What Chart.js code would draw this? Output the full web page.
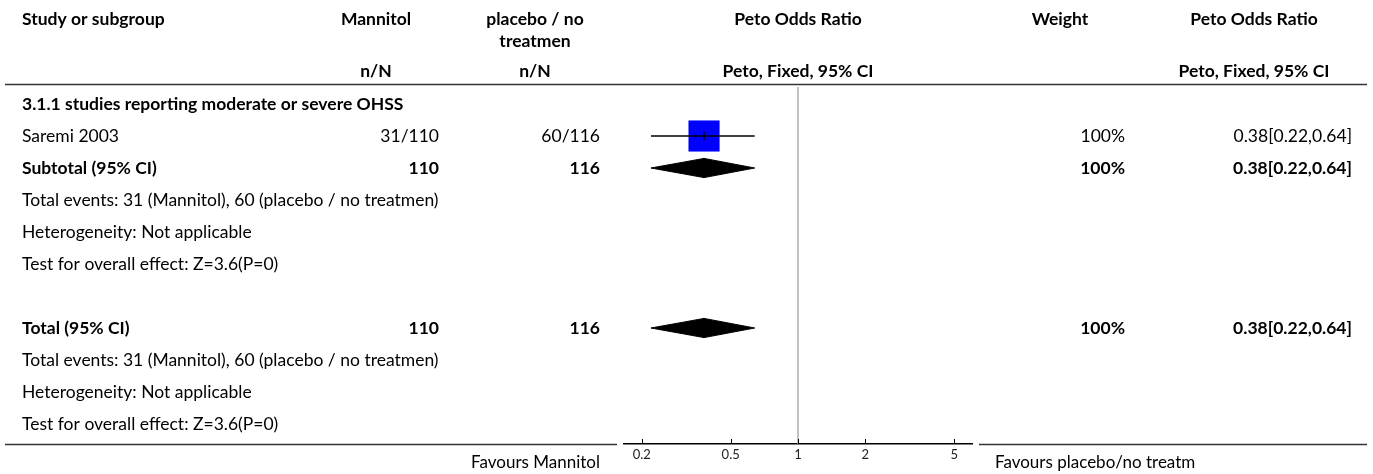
<!DOCTYPE html>
<html>
<head>
<meta charset="utf-8">
<title>Mannitol vs placebo / no treatment – moderate or severe OHSS</title>
<script src="https://cdn.jsdelivr.net/npm/chart.js@4.4.1/dist/chart.umd.min.js"></script>
<style>
  html, body { margin: 0; padding: 0; background: #fff; }
  #wrap { width: 1373px; height: 474px; position: relative; }
</style>
</head>
<body>
<div id="wrap"><canvas id="forest" width="1373" height="474"></canvas></div>
<script>
// ---- data ----
const subgroupTitle = '3.1.1 studies reporting moderate or severe OHSS';
const studies = ['Saremi 2003'];
const mannitolEvents = [31];
const mannitolTotals = [110];
const controlEvents = [60];
const controlTotals = [116];
const studyOR = [0.38];
const studyLow = [0.22];
const studyHigh = [0.64];
const studyWeight = [100];

const pooledOR = [0.38];
const pooledLow = [0.22];
const pooledHigh = [0.64];
const testZ = [3.6];
const testP = [0];

const treatmentName = 'Mannitol';
const controlName = 'placebo / no treatmen';
const controlHeader = ['placebo / no', 'treatmen'];
const favoursLeft = 'Favours Mannitol';
const favoursRight = 'Favours placebo/no treatm';
const axisTicks = [0.2, 0.5, 1, 2, 5];
const axisRange = [1 / 6, 6];

// ---- layout / style ----
const FONT = 'Lato, "Open Sans", sans-serif';
const INK = '#000';
const BODY = 17.5;
const COL = {
  tableLeft: 5, tableRight: 1367,
  studyLeft: 22,
  trtHead: 376, trtRight: 439,
  ctlHead: 535, ctlRight: 600,
  plotLeft: 617, plotRight: 979,
  wHead: 1060, wRight: 1125,
  estHead: 1254, estRight: 1352
};
const DIAMOND_HALF = 0.3;   // half height of a pooled diamond, in rows

// row indices inside the plot's y scale
const nStudies = studies.length;
const ROW = {
  head1: -2.66, head2: -1.96, head3: -1.02,
  subgroup: 0,
  firstStudy: 1,
  subtotal: nStudies + 1,
  subEvents: nStudies + 2,
  subHet: nStudies + 3,
  subTest: nStudies + 4,
  total: nStudies + 6,
  totEvents: nStudies + 7,
  totHet: nStudies + 8,
  totTest: nStudies + 9
};

const sum = a => a.reduce((s, v) => s + v, 0);
const fmtCI = (m, l, h) => `${m.toFixed(2)}[${l.toFixed(2)},${h.toFixed(2)}]`;

function diamond(m, l, h, row) {
  return [
    { x: l, y: row }, { x: m, y: row - DIAMOND_HALF },
    { x: h, y: row }, { x: m, y: row + DIAMOND_HALF }, { x: l, y: row }
  ];
}

const datasets = [];
// line of no effect
datasets.push({
  data: [{ x: 1, y: -0.53 }, { x: 1, y: 10.625 }],
  showLine: true, borderColor: '#9a9a9a', borderWidth: 1.2,
  pointRadius: 0, order: 10
});
studies.forEach((s, i) => {
  const row = ROW.firstStudy + i;
  // weighted square
  datasets.push({
    data: [{ x: studyOR[i], y: row }],
    pointStyle: 'rect', pointRadius: 22 * Math.sqrt(studyWeight[i] / 100),
    backgroundColor: '#0000ff', borderWidth: 0, order: 5
  });
  // confidence interval
  datasets.push({
    data: [{ x: studyLow[i], y: row }, { x: studyHigh[i], y: row }],
    showLine: true, borderColor: '#000', borderWidth: 1.3,
    pointRadius: 0, order: 2
  });
  // point estimate mark
  datasets.push({
    data: [{ x: studyOR[i], y: row }],
    pointStyle: 'line', rotation: 90, pointRadius: 4.5,
    borderColor: '#000', borderWidth: 1.2, order: 1
  });
});
[ROW.subtotal, ROW.total].forEach(row => {
  datasets.push({
    data: diamond(pooledOR[0], pooledLow[0], pooledHigh[0], row),
    showLine: true, fill: 'shape', tension: 0,
    backgroundColor: '#000', borderColor: '#000', borderWidth: 1,
    pointRadius: 0, order: 3
  });
});

// table text, rules and upward tick marks
const forestTable = {
  id: 'forestTable',
  afterDraw(chart) {
    const ctx = chart.ctx;
    const ys = chart.scales.y, xs = chart.scales.x;
    const area = chart.chartArea;
    const Y = r => ys.getPixelForValue(r);
    const put = (s, x, y, align, bold, size) => {
      ctx.font = `${bold ? 'bold ' : ''}${size || BODY}px ${FONT}`;
      ctx.textAlign = align;
      ctx.fillText(s, x, y);
    };
    const plotMid = xs.getPixelForValue(1);

    ctx.save();
    ctx.fillStyle = INK;
    ctx.textBaseline = 'middle';

    // column headings
    put('Study or subgroup', COL.studyLeft, Y(ROW.head1), 'left', true);
    put(treatmentName, COL.trtHead, Y(ROW.head1), 'center', true);
    put(controlHeader[0], COL.ctlHead, Y(ROW.head1), 'center', true);
    put(controlHeader[1], COL.ctlHead, Y(ROW.head2), 'center', true);
    put('Peto Odds Ratio', plotMid, Y(ROW.head1), 'center', true);
    put('Weight', COL.wHead, Y(ROW.head1), 'center', true);
    put('Peto Odds Ratio', COL.estHead, Y(ROW.head1), 'center', true);
    put('n/N', COL.trtHead, Y(ROW.head3), 'center', true);
    put('n/N', COL.ctlHead, Y(ROW.head3), 'center', true);
    put('Peto, Fixed, 95% CI', plotMid, Y(ROW.head3), 'center', true);
    put('Peto, Fixed, 95% CI', COL.estHead, Y(ROW.head3), 'center', true);

    // subgroup
    put(subgroupTitle, COL.studyLeft, Y(ROW.subgroup), 'left', true);
    studies.forEach((s, i) => {
      const y = Y(ROW.firstStudy + i);
      put(s, COL.studyLeft, y, 'left', false);
      put(`${mannitolEvents[i]}/${mannitolTotals[i]}`, COL.trtRight, y, 'right', false);
      put(`${controlEvents[i]}/${controlTotals[i]}`, COL.ctlRight, y, 'right', false);
      put(`${studyWeight[i]}%`, COL.wRight, y, 'right', false);
      put(fmtCI(studyOR[i], studyLow[i], studyHigh[i]), COL.estRight, y, 'right', false);
    });

    const summaryBlock = (label, rTitle, rEv, rHet, rTest) => {
      const y = Y(rTitle);
      put(label, COL.studyLeft, y, 'left', true);
      put(String(sum(mannitolTotals)), COL.trtRight, y, 'right', true);
      put(String(sum(controlTotals)), COL.ctlRight, y, 'right', true);
      put(`${sum(studyWeight)}%`, COL.wRight, y, 'right', true);
      put(fmtCI(pooledOR[0], pooledLow[0], pooledHigh[0]), COL.estRight, y, 'right', true);
      put(`Total events: ${sum(mannitolEvents)} (${treatmentName}), ${sum(controlEvents)} (${controlName})`,
          COL.studyLeft, Y(rEv), 'left', false);
      put('Heterogeneity: Not applicable', COL.studyLeft, Y(rHet), 'left', false);
      put(`Test for overall effect: Z=${testZ[0]}(P=${testP[0]})`, COL.studyLeft, Y(rTest), 'left', false);
    };
    summaryBlock('Subtotal (95% CI)', ROW.subtotal, ROW.subEvents, ROW.subHet, ROW.subTest);
    summaryBlock('Total (95% CI)', ROW.total, ROW.totEvents, ROW.totHet, ROW.totTest);

    // rules
    ctx.strokeStyle = '#333';
    ctx.lineWidth = 1.5;
    ctx.beginPath();
    ctx.moveTo(COL.tableLeft, area.top + 0.5); ctx.lineTo(COL.tableRight, area.top + 0.5);
    ctx.moveTo(COL.tableLeft, area.bottom + 0.5); ctx.lineTo(COL.plotLeft, area.bottom + 0.5);
    ctx.moveTo(COL.plotRight, area.bottom + 0.5); ctx.lineTo(COL.tableRight, area.bottom + 0.5);
    ctx.stroke();

    // tick marks pointing up from the axis
    ctx.strokeStyle = '#000';
    ctx.lineWidth = 1;
    ctx.beginPath();
    axisTicks.forEach(t => {
      const x = Math.round(xs.getPixelForValue(t)) + 0.5;
      ctx.moveTo(x, area.bottom);
      ctx.lineTo(x, area.bottom - 5);
    });
    ctx.stroke();

    // favours labels
    const fy = area.bottom + 19;
    put(favoursLeft, COL.ctlRight, fy, 'right', false, 17);
    put(favoursRight, COL.plotRight + 16, fy, 'left', false, 17);
    ctx.restore();
  }
};

Chart.defaults.font.family = FONT;
Chart.defaults.color = INK;

new Chart(document.getElementById('forest'), {
  type: 'scatter',
  data: { datasets },
  options: {
    responsive: false,
    animation: false,
    devicePixelRatio: 1,
    events: [],
    layout: { padding: { left: 624, right: 401, top: 84, bottom: 0 } },
    plugins: { legend: { display: false }, tooltip: { enabled: false } },
    scales: {
      x: {
        type: 'logarithmic',
        position: 'bottom',
        min: axisRange[0],
        max: axisRange[1],
        afterFit: s => { s.height = 30; },
        afterBuildTicks: s => { s.ticks = axisTicks.map(v => ({ value: v })); },
        grid: { display: false, drawTicks: false },
        border: { display: true, color: '#000', width: 1.5 },
        ticks: {
          autoSkip: false, maxRotation: 0, padding: 3,
          color: '#222',
          font: { size: 13, family: FONT },
          callback: v => String(v)
        }
      },
      y: {
        type: 'linear',
        display: false,
        reverse: true,
        min: -0.625,
        max: 10.625
      }
    }
  },
  plugins: [forestTable]
});
</script>
</body>
</html>
